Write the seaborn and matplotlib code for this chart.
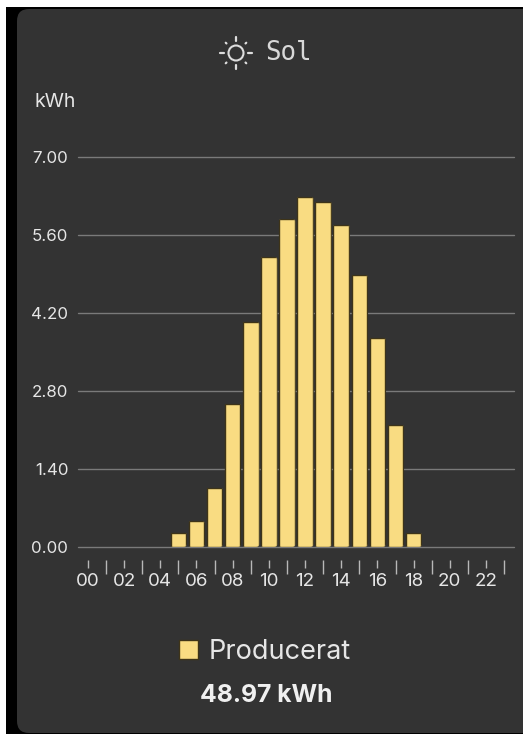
import matplotlib
matplotlib.use("Agg")
import matplotlib.pyplot as plt
from matplotlib.patches import FancyBboxPatch, Rectangle
import seaborn as sns
import pandas as pd
import numpy as np

hours = [f"{h:02d}" for h in range(24)]
produced = [0, 0, 0, 0, 0, 0.26, 0.46, 1.06, 2.57, 4.04, 5.20, 5.88,
            6.28, 6.20, 5.78, 4.88, 3.75, 2.19, 0.25, 0, 0, 0, 0, 0]
y_ticks = [0.00, 1.40, 2.80, 4.20, 5.60, 7.00]
series_name = "Producerat"
title = "Sol"
unit = "kWh"
total = "48.97 kWh"

W, H = 523, 734
CARD = "#333333"
BAR = "#F9DC82"
EDGE = "#3E3418"
TXT = "#E6E6E6"
FONT = "Inter"

sns.set_theme(style="dark")
plt.rcParams["font.family"] = [FONT, "DejaVu Sans"]

fig = plt.figure(figsize=(W / 100, H / 100), dpi=100, facecolor="white")

# Screenshot background in pixel coordinates
bg = fig.add_axes([0, 0, 1, 1], zorder=0)
bg.set_xlim(0, W)
bg.set_ylim(H, 0)
bg.axis("off")
bg.add_patch(Rectangle((6, 7), W, H, fc="black", ec="none"))
bg.add_patch(FancyBboxPatch((17, 9), W + 40, H - 9 - 1, boxstyle="round,pad=0,rounding_size=12",
                            fc=CARD, ec="none"))

# Sun icon
cx, cy, r = 236, 53, 7.5
bg.add_patch(plt.Circle((cx, cy), r, fc="none", ec="#DDDDDD", lw=1.5))
for a in np.deg2rad(np.arange(0, 360, 45)):
    long_ray = int(round(np.rad2deg(a))) % 90 == 0
    r0, r1 = (12, 16) if long_ray else (13.5, 14.5)
    bg.plot([cx + r0 * np.cos(a), cx + r1 * np.cos(a)],
            [cy + r0 * np.sin(a), cy + r1 * np.sin(a)],
            color="#DDDDDD", lw=1.6, solid_capstyle="round")
bg.text(265, 53, title, ha="left", va="center", fontsize=18.5, color="#D8D8D8",
        family=["DejaVu Sans Mono"])
bg.text(35, 102, unit, ha="left", va="center", fontsize=14, color=TXT)
bg.text(266, 695, total, ha="center", va="center", fontsize=17.8, fontweight="bold", color="#F0F0F0")

# Plot area: x 78-514, y 157-547
ax = fig.add_axes([78 / W, 1 - 547 / H, 436 / W, 390 / H], zorder=1)
ax.patch.set_alpha(0)
df = pd.DataFrame({"hour": hours, "kWh": produced})
sns.barplot(data=df, x="hour", y="kWh", color=BAR, saturation=1, width=0.86,
            edgecolor=EDGE, linewidth=1, label=series_name, ax=ax, legend=False)
ax.set_xlim(-0.55, 23.55)
ax.set_ylim(0, 7)
ax.set_xlabel("")
ax.set_ylabel("")

# Rounded bar corners
x_px = 436 / 24.1
y_px = 390 / 7
for bar in list(ax.containers[0]):
    h = bar.get_height()
    if h <= 0:
        bar.set_visible(False)
        continue
    clip = FancyBboxPatch((bar.get_x() - 0.05, 0), bar.get_width() + 0.1, h + 0.01,
                          boxstyle="round,pad=0,rounding_size=0.2",
                          mutation_aspect=x_px / y_px, transform=ax.transData)
    bar.set_clip_path(clip)
    bar.set_clip_on(True)

ax.set_axisbelow(True)
ax.set_yticks(y_ticks, [f"{v:.2f}" for v in y_ticks])
ax.yaxis.grid(True, color="#7A7A7A", lw=1)
for line in ax.get_ygridlines():
    line.set_clip_on(False)
ax.xaxis.grid(False)
for s in ["top", "right", "left"]:
    ax.spines[s].set_visible(False)
ax.spines["bottom"].set_position(("outward", 9))
ax.spines["bottom"].set_visible(False)
ax.tick_params(axis="y", length=0, pad=7, labelsize=12.2, labelcolor=TXT)

ticks = np.arange(24)
ax.set_xticks(ticks[::2], [hours[i] for i in ticks[::2]])
ax.set_xticks(ticks[1::2], minor=True)
ax.tick_params(axis="x", which="major", length=6, width=1, color="#B8B8B8", direction="out",
               pad=3.5, labelsize=13.5, labelcolor=TXT)
ax.tick_params(axis="x", which="minor", length=10, width=1, color="#B8B8B8", direction="out")
ax.tick_params(axis="x", which="both", bottom=True)

# Legend
handle = Rectangle((0, 0), 1, 1, fc=BAR, ec=EDGE, lw=1)
fig.legend([handle], [series_name], loc="center", bbox_to_anchor=(265 / W, 1 - 652 / H),
           frameon=False, fontsize=19.5, labelcolor=TXT, handlelength=0.68, handleheight=0.7,
           handletextpad=0.4, borderpad=0)

fig.savefig("out.png", dpi=100, facecolor="white")
